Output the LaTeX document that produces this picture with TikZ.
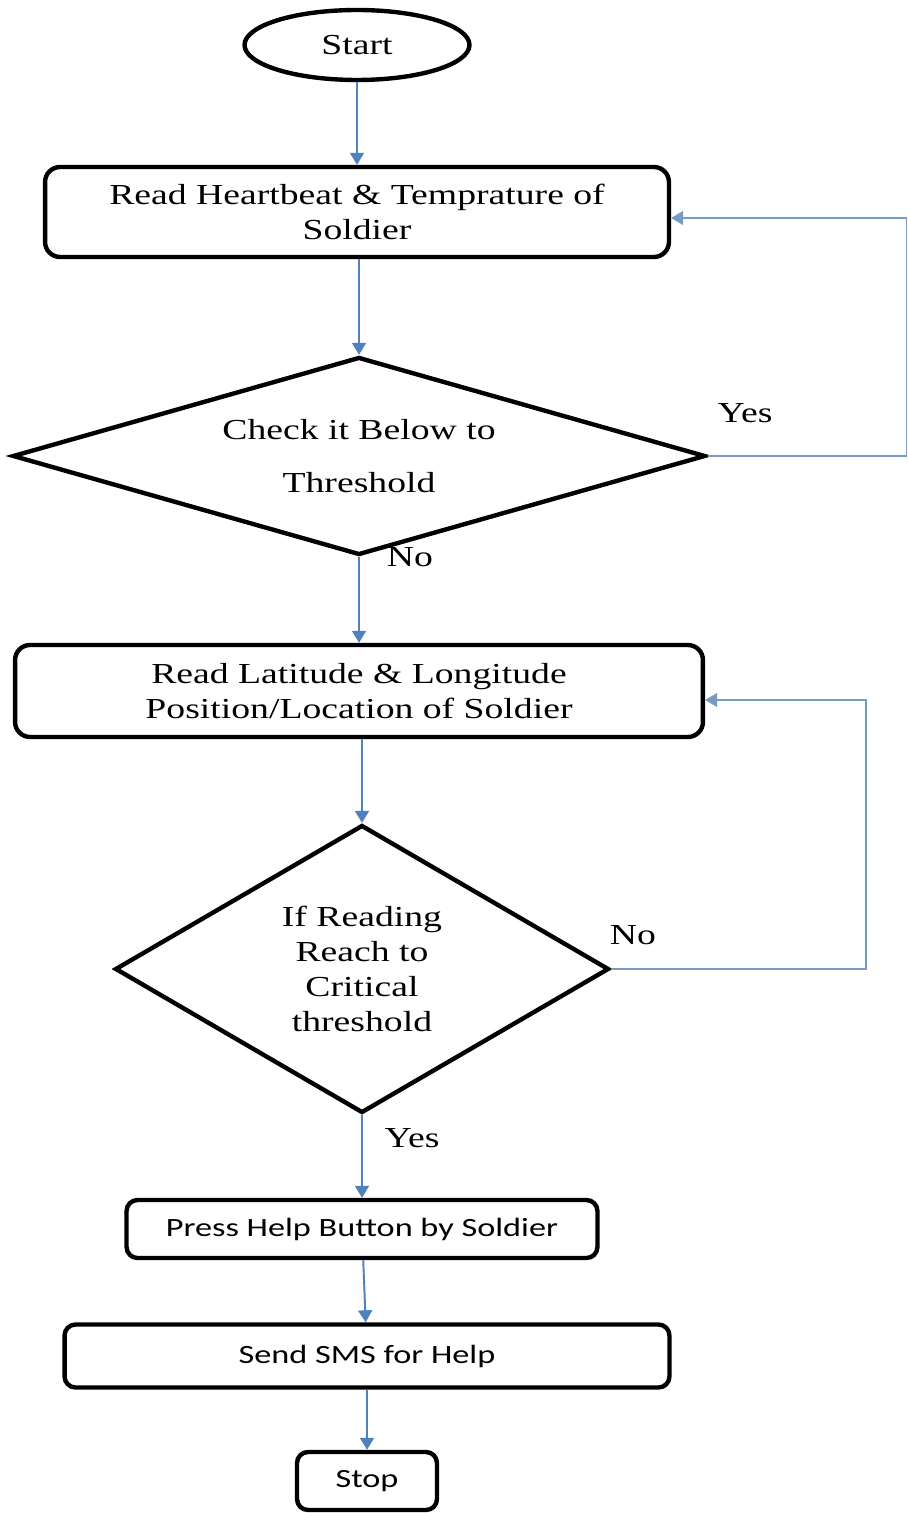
\documentclass[tikz,border=0pt]{standalone}
\usepackage{fontspec}
\setmainfont{Liberation Serif}[FakeStretch=1.3]
\newfontfamily\calfont{Carlito}[FakeStretch=1.3]
\usepackage{tikz}
\usetikzlibrary{shapes.geometric,arrows.meta}

\definecolor{flowblue}{RGB}{79,129,189}
\definecolor{loopblue}{RGB}{120,155,195}

\begin{document}
\begin{tikzpicture}[x=0.02cm,y=-0.02cm,align=center,
		font=\fontsize{16.5}{20}\selectfont,
		box/.style={draw,line width=2.5pt,rounded corners=0.3cm,inner sep=0pt},
		sbox/.style={box,font=\calfont\fontsize{15}{18}\selectfont,rounded corners=0.22cm},
		dec/.style={draw,diamond,line width=2.5pt,inner sep=0pt},
		flow/.style={draw=flowblue,line width=1.1pt,-{Triangle[width=0.28cm,length=0.24cm]}},
		back/.style={draw=loopblue,line width=0.8pt,-{Triangle[width=0.28cm,length=0.24cm]}}]
		\useasboundingbox (0,0) rectangle (908,1513);

		\node[draw,ellipse,line width=2.5pt,minimum width=4.5cm,minimum height=1.4cm] (start) at (357,45) {Start};
		\node[box,minimum width=12.48cm,minimum height=1.8cm] (read) at (357,212) {Read Heartbeat \& Temprature of \\ Soldier};
		\node[dec,aspect=3.49,minimum width=13.86cm,minimum height=3.96cm] (chk) at (359,456) {Check it Below to \\[10pt] Threshold};
		\node[box,minimum width=13.76cm,minimum height=1.84cm] (pos) at (359,691) {Read Latitude \& Longitude \\ Position/Location of Soldier};
		\node[dec,aspect=1.715,minimum width=9.88cm,minimum height=5.76cm] (crit) at (362,969) {If Reading \\ Reach to \\ Critical \\ threshold};
		\node[sbox,minimum width=9.42cm,minimum height=1.16cm] (help) at (362,1229) {Press Help Button by Soldier};
		\node[sbox,minimum width=12.1cm,minimum height=1.26cm] (sms) at (367,1356) {Send SMS for Help};
		\node[sbox,minimum width=2.8cm,minimum height=1.16cm] (stop) at (367,1481) {Stop};

		\node (yes1) at (745,413) {Yes};
		\node (no1) at (410,557) {No};
		\node (no2) at (633,935) {No};
		\node (yes2) at (412,1138) {Yes};

		\draw[flow] (start.south) -- (read.north -| start.south);
		\draw[flow] (read.south -| chk.north) -- (chk.north);
		\draw[flow] (chk.south) -- (pos.north -| chk.south);
		\draw[flow] (pos.south -| crit.north) -- (crit.north);
		\draw[flow] (crit.south) -- (help.north -| crit.south);
		\draw[flow] (help) -- (sms);
		\draw[flow] (sms.south -| stop.north) -- (stop.north);

		\draw[back] (chk.east) -- ++(199,0) |- ([yshift=-0.12cm]read.east);
		\draw[back] (crit.east) -- ++(255,0) |- ([yshift=-0.18cm]pos.east);
	\end{tikzpicture}
\end{document}
